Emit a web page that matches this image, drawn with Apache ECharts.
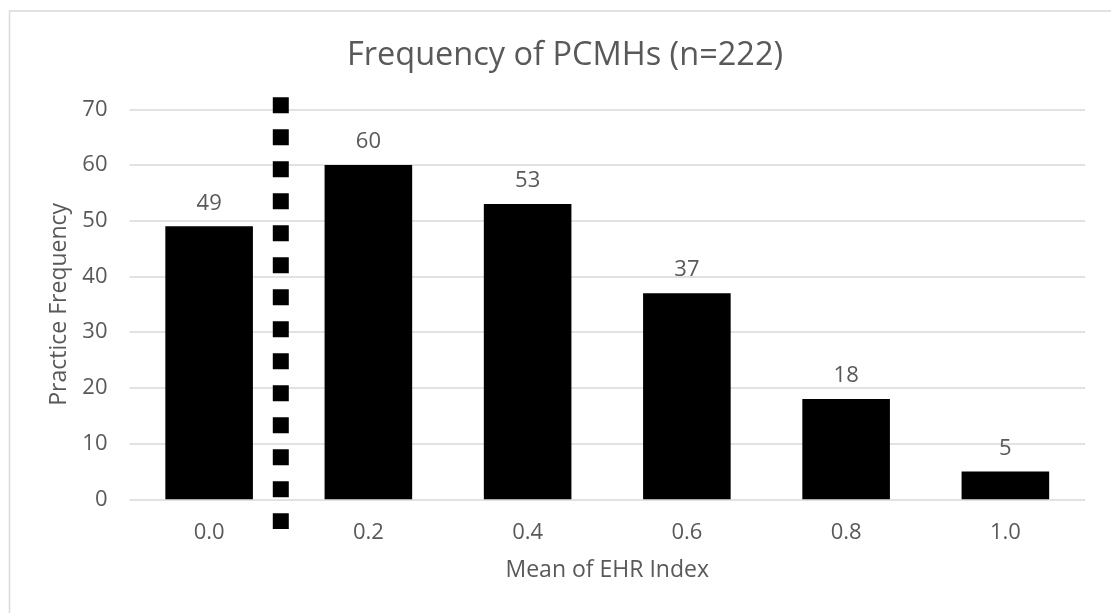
<!DOCTYPE html>
<html>
    <head>
        <meta charset="utf-8">
        <script src="https://cdn.jsdelivr.net/npm/echarts@6/dist/echarts.min.js"></script>
        <style>
            html, body { margin: 0; padding: 0; background: #fff; }
            #main { width: 1111px; height: 613px; }
        </style>
    </head>
    <body>
        <div id="main"></div>
        <script>

        var categories = ['0.0', '0.2', '0.4', '0.6', '0.8', '1.0'];
        var frequency = [49, 60, 53, 37, 18, 5];
        // vertical marker line (EHR index value, y range in practice counts)
        var markerX = 0.09;
        var markerY = [72.15, -5.35];

        var textColor = '#595959';
        var gridColor = '#d9d9d9';
        var font = 'Open Sans';

        var myChart = echarts.init(document.getElementById('main'));

        myChart.setOption({
            backgroundColor: '#fff',
            animation: false,
            title: {
                text: 'Frequency of PCMHs (n=222)',
                left: 560,
                top: 34,
                textAlign: 'center',
                textStyle: {
                    fontFamily: font,
                    fontSize: 32.5,
                    fontWeight: 'normal',
                    color: textColor
                }
            },
            graphic: [
                {
                    type: 'rect',
                    shape: {x: 9.5, y: 11, width: 1120, height: 620},
                    style: {fill: 'none', stroke: gridColor, lineWidth: 1.5},
                    silent: true
                }
            ],
            grid: {
                left: 129.5,
                right: 26,
                top: 109.3,
                bottom: 113.7
            },
            xAxis: [
                {
                    type: 'category',
                    data: categories,
                    name: 'Mean of EHR Index',
                    nameLocation: 'middle',
                    nameGap: 60,
                    nameTextStyle: {fontFamily: font, fontSize: 23, color: textColor},
                    axisLine: {show: false},
                    axisTick: {show: false},
                    axisLabel: {margin: 22, fontFamily: font, fontSize: 22, color: textColor}
                },
                {
                    type: 'value',
                    min: -0.1,
                    max: 1.1,
                    show: false
                }
            ],
            yAxis: {
                type: 'value',
                min: 0,
                max: 70,
                interval: 10,
                name: 'Practice Frequency',
                nameLocation: 'middle',
                nameGap: 58,
                nameTextStyle: {fontFamily: font, fontSize: 23, color: textColor},
                axisLine: {show: false},
                axisTick: {show: false},
                axisLabel: {margin: 22, fontFamily: font, fontSize: 22, color: textColor},
                splitLine: {lineStyle: {color: gridColor, width: 1.5}}
            },
            series: [
                {
                    type: 'bar',
                    data: frequency,
                    barCategoryGap: '45%',
                    itemStyle: {color: '#000'},
                    label: {
                        show: true,
                        position: 'top',
                        distance: 12,
                        fontFamily: font,
                        fontSize: 22,
                        color: textColor
                    }
                },
                {
                    type: 'line',
                    xAxisIndex: 1,
                    data: [[markerX, markerY[0]], [markerX, markerY[1]]],
                    symbol: 'none',
                    clip: false,
                    z: 5,
                    lineStyle: {
                        color: '#000',
                        width: 16,
                        type: [16, 16],
                        cap: 'butt'
                    }
                }
            ]
        });

        </script>
    </body>
</html>
